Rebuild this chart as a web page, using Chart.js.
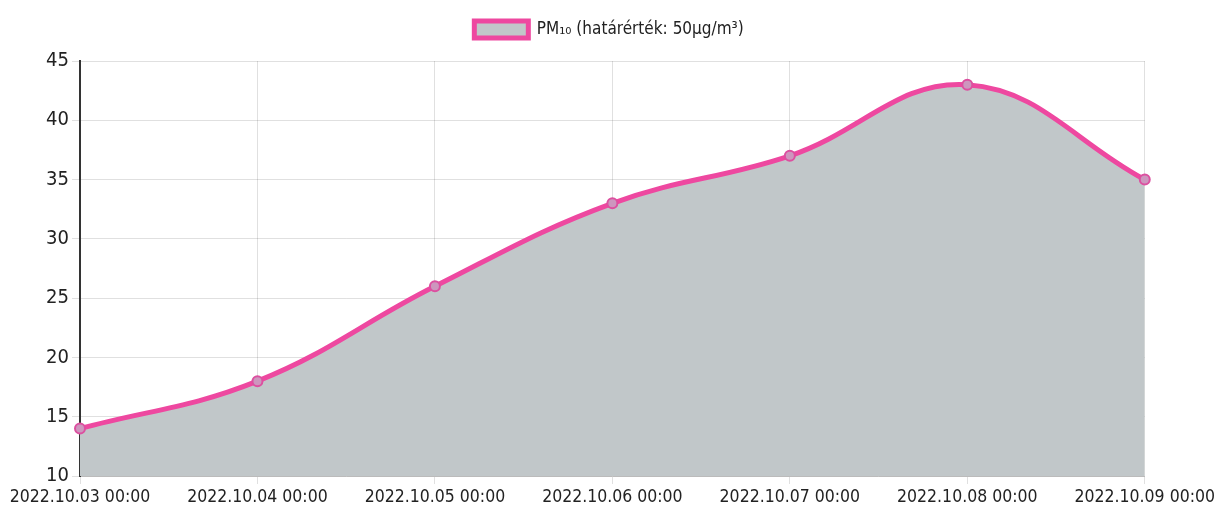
<!DOCTYPE html>
<html>
<head>
<meta charset="utf-8">
<script src="https://cdn.jsdelivr.net/npm/chart.js"></script>
<style>
  html, body { margin: 0; padding: 0; background: #fff; }
  #wrap { width: 1218px; height: 519px; }
</style>
</head>
<body>
<div id="wrap"><canvas id="pm-chart"></canvas></div>
<script>
const labels = [
    "2022.10.03 00:00", "2022.10.04 00:00", "2022.10.05 00:00", "2022.10.06 00:00",
    "2022.10.07 00:00", "2022.10.08 00:00", "2022.10.09 00:00"
]
const pm10 = [14, 18, 26, 33, 37, 43, 35]
const seriesName = "PM₁₀ (határérték: 50μg/m³)"
const yMin = 10
const yMax = 45
const yStep = 5

const font = "'DejaVu Sans Condensed', 'Liberation Sans Narrow', sans-serif"

// a bit more room between the legend and the plot
const legendSpace = {
    id: 'legendSpace',
    beforeInit(chart) {
        const fit = chart.legend.fit
        chart.legend.fit = function () {
            fit.bind(chart.legend)()
            this.height += 13
        }
    }
}

new Chart(document.getElementById("pm-chart"), {
    type: 'line',
    data: {
        labels: labels,
        datasets: [{
            label: seriesName,
            data: pm10,
            fill: true,
            backgroundColor: "rgb(193, 199, 201)",
            borderColor: "rgb(238, 72, 160)",
            borderWidth: 5,
            tension: 0.4,
            pointRadius: 5,
            pointBorderWidth: 2,
            pointBackgroundColor: "rgb(205, 150, 190)",
            pointBorderColor: "rgb(220, 80, 160)",
        }]
    },
    options: {
        responsive: true,
        maintainAspectRatio: false,
        animation: false,
        layout: { padding: { top: 1, right: 0, left: 0, bottom: 8 } },
        plugins: {
            legend: {
                labels: {
                    color: "#222",
                    font: { family: font, size: 17 },
                    boxWidth: 54,
                    boxHeight: 17,
                    padding: 20,
                },
            },
            tooltip: { enabled: false },
        },
        scales: {
            x: {
                grid: { color: "rgba(0,0,0,0.12)", tickLength: 8 },
                border: { color: "#bbb" },
                ticks: {
                    color: "#222",
                    font: { family: font, size: 17.5 },
                    maxRotation: 0,
                    autoSkip: false,
                },
            },
            y: {
                min: yMin,
                max: yMax,
                afterFit(scale) { scale.width = 80 },
                grid: { color: "rgba(0,0,0,0.12)", tickLength: 8 },
                border: { color: "#333", width: 2 },
                ticks: {
                    stepSize: yStep,
                    color: "#222",
                    font: { family: font, size: 20 },
                },
            },
        },
    },
    plugins: [legendSpace],
})
</script>
</body>
</html>
